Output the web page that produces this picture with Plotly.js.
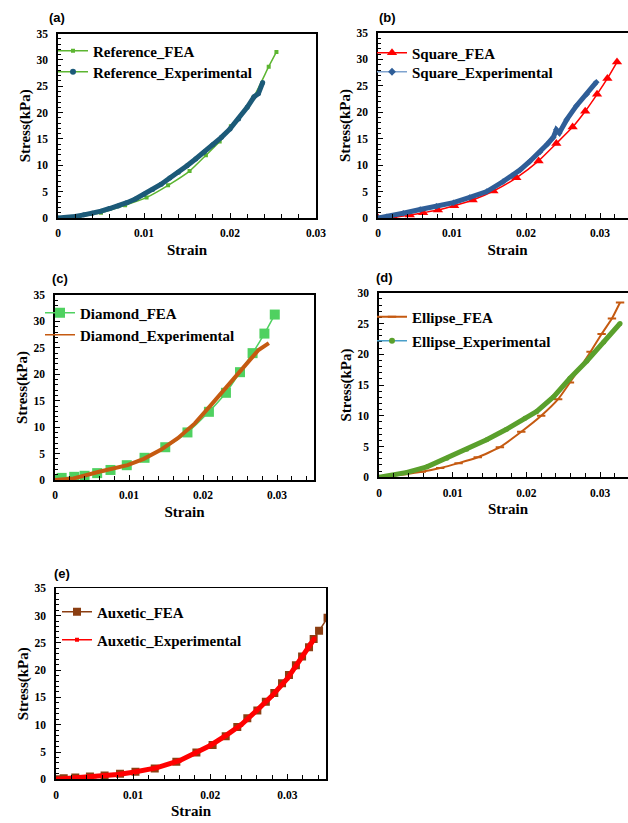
<!DOCTYPE html>
<html>
<head>
<meta charset="utf-8">
<script src="https://cdn.plot.ly/plotly-3.0.1.min.js"></script>
<style>
html,body{margin:0;padding:0;overflow:hidden;background:#fff;}
#chart{width:640px;height:823px;}
</style>
</head>
<body>
<div id="chart"></div>
<script>
// ---------- data ----------
// (a) Reference
const refFeaStrain = [0, 0.0025, 0.005, 0.0078, 0.0103, 0.0128, 0.0153, 0.0172, 0.0188, 0.0201, 0.0227, 0.0245, 0.0254];
const refFeaStress = [0, 0.3, 1.0, 2.4, 3.9, 6.2, 8.9, 11.9, 14.5, 17.4, 22.8, 28.7, 31.5];
const refExpStrain = [0, 0.001, 0.002, 0.003, 0.004, 0.005, 0.006, 0.007, 0.008, 0.009, 0.010, 0.011, 0.012, 0.013, 0.014, 0.015, 0.016, 0.017, 0.018, 0.019, 0.020, 0.021, 0.022, 0.0228, 0.0233, 0.0238];
const refExpStress = [0, 0.1, 0.3, 0.6, 0.9, 1.3, 1.8, 2.3, 2.9, 3.6, 4.5, 5.4, 6.4, 7.6, 8.7, 9.9, 11.2, 12.5, 13.9, 15.3, 16.9, 18.8, 21.0, 23.0, 23.6, 25.7];
// (b) Square
const sqFeaStrain = [0, 0.0021, 0.0043, 0.0061, 0.0081, 0.0103, 0.0128, 0.0156, 0.0187, 0.0217, 0.0241, 0.0263, 0.0280, 0.0296, 0.0310, 0.0323];
const sqFeaStress = [0, 0.1, 0.55, 1.0, 1.5, 2.3, 3.4, 5.1, 7.6, 10.8, 14.1, 17.2, 20.2, 23.4, 26.4, 29.5];
const sqExpStrain = [0, 0.0012, 0.0034, 0.0057, 0.0079, 0.0102, 0.0124, 0.0147, 0.0169, 0.0181, 0.0192, 0.0205, 0.0219, 0.0229, 0.0237, 0.0241, 0.0245, 0.0255, 0.0268, 0.0282, 0.0295];
const sqExpStress = [0, 0.25, 0.9, 1.6, 2.2, 2.9, 3.9, 5.0, 6.9, 8.0, 9.1, 10.7, 12.5, 14.0, 15.3, 16.7, 16.1, 18.6, 21.2, 23.4, 25.7];
// (c) Diamond
const diFeaStrain = [0, 0.0009, 0.0026, 0.0040, 0.0057, 0.0075, 0.0097, 0.0121, 0.0149, 0.0179, 0.0208, 0.0231, 0.0250, 0.0267, 0.0283, 0.0297];
const diFeaStress = [0.1, 0.4, 0.6, 0.8, 1.3, 1.9, 2.8, 4.2, 6.2, 9.0, 12.9, 16.5, 20.4, 24.0, 27.7, 31.3];
const diExpStrain = [0, 0.0025, 0.0061, 0.0098, 0.012, 0.0143, 0.0166, 0.0189, 0.0211, 0.0234, 0.0257, 0.0275, 0.0289];
const diExpStress = [0, 0.3, 1.6, 2.8, 4.0, 5.7, 7.9, 10.7, 14.2, 18.0, 21.8, 24.6, 25.9];
// (d) Ellipse
const elFeaStrain = [0, 0.0035, 0.0058, 0.0083, 0.0108, 0.0134, 0.0164, 0.0193, 0.0220, 0.0243, 0.0259, 0.0287, 0.0302, 0.0316, 0.0327];
const elFeaStress = [0, 0.5, 0.9, 1.5, 2.3, 3.25, 4.9, 7.4, 10.0, 12.7, 15.4, 20.4, 23.3, 25.8, 28.4];
const elExpStrain = [0, 0.0038, 0.0065, 0.0092, 0.0119, 0.0146, 0.0173, 0.0198, 0.0214, 0.0237, 0.0259, 0.0282, 0.0305, 0.0327];
const elExpStress = [0, 0.8, 1.7, 3.1, 4.55, 6.1, 7.8, 9.6, 10.7, 13.1, 16.1, 18.9, 22.0, 25.0];
// (e) Auxetic
const auFeaStrain = [0, 0.001, 0.0025, 0.0044, 0.0063, 0.0083, 0.0103, 0.0128, 0.0156, 0.0182, 0.0203, 0.0220, 0.0235, 0.0248, 0.0261, 0.0272, 0.0283, 0.0293, 0.0302, 0.0311, 0.0319, 0.0328, 0.0334, 0.0341, 0.0352];
const auFeaStress = [0, 0.2, 0.35, 0.5, 0.7, 1.0, 1.4, 2.0, 3.2, 4.9, 6.3, 7.9, 9.6, 11.2, 12.6, 14.2, 15.8, 17.6, 19.1, 20.9, 22.5, 24.2, 25.7, 27.2, 29.6];
const auExpStrain = [0, 0.002, 0.005, 0.008, 0.010, 0.013, 0.016, 0.018, 0.020, 0.022, 0.024, 0.026, 0.028, 0.030, 0.031, 0.032, 0.033, 0.0335];
const auExpStress = [0, 0.2, 0.5, 0.9, 1.3, 2.1, 3.4, 4.7, 6.2, 8.0, 10.0, 12.6, 15.3, 18.5, 20.5, 22.6, 24.8, 25.8];

const panelLabels = ['(a)', '(b)', '(c)', '(d)', '(e)'];
const xTitle = 'Strain';
const yTitle = 'Stress(kPa)';

// ---------- layout helpers ----------
const W = 640, H = 823;
const SERIF = 'Liberation Serif, Times New Roman, serif';
const px = v => v / W;
const py = v => 1 - v / H;

// plot frames in pixels: [left, right, top, bottom]
const frames = [
  [58, 316, 33.5, 218],
  [378, 637, 33, 218],
  [55, 314, 295, 480],
  [379, 637, 292.7, 477.3],
  [56, 326, 588.3, 779.3]
];
const xMax = [0.03, 0.035, 0.035, 0.035, 0.035];
const yMax = [35, 35, 35, 30, 35];

const layout = {
  width: W, height: H,
  margin: {l: 0, r: 0, t: 0, b: 0},
  paper_bgcolor: '#fff', plot_bgcolor: '#fff',
  showlegend: true,
  font: {family: SERIF, color: '#000'},
  annotations: []
};

frames.forEach((f, i) => {
  const n = i === 0 ? '' : String(i + 1);
  layout['xaxis' + n] = {
    domain: [px(f[0]), px(f[1])],
    anchor: 'y' + n,
    range: [0, xMax[i]],
    dtick: 0.01, tick0: 0,
    ticks: 'inside', ticklen: 5, tickwidth: 1, tickcolor: '#000',
    minor: {dtick: 0.002, ticks: 'inside', ticklen: 4, tickcolor: '#000'},
    showline: true, linecolor: '#000', linewidth: 1.6, mirror: true,
    showgrid: false, zeroline: false,
    ticklabelstandoff: 4,
    tickfont: {family: SERIF, size: 11.5, color: '#000', weight: 'bold'},
    title: {text: '<b>' + xTitle + '</b>', font: {family: SERIF, size: 15, color: '#000'}, standoff: 6},
    fixedrange: true
  };
  layout['yaxis' + n] = {
    domain: [py(f[3]), py(f[2])],
    anchor: 'x' + n,
    range: [0, yMax[i]],
    dtick: 5, tick0: 0,
    ticks: 'inside', ticklen: 5, tickwidth: 1, tickcolor: '#000',
    minor: {dtick: 1, ticks: 'inside', ticklen: 3, tickcolor: '#000'},
    showline: true, linecolor: '#000', linewidth: 1.6, mirror: true,
    showgrid: false, zeroline: false,
    ticklabelstandoff: 6,
    tickfont: {family: SERIF, size: 11.5, color: '#000', weight: 'bold'},
    title: {text: '<b>' + yTitle + '</b>', font: {family: SERIF, size: 15, color: '#000'}, standoff: 2},
    fixedrange: true
  };
});

// panel letters
const letterPos = [[57, 17], [387, 17], [60, 278], [384, 277], [62, 573]];
panelLabels.forEach((t, i) => {
  layout.annotations.push({
    text: '<b>' + t + '</b>', xref: 'paper', yref: 'paper',
    x: px(letterPos[i][0]), y: py(letterPos[i][1]),
    xanchor: 'center', yanchor: 'middle', showarrow: false,
    font: {family: 'Liberation Sans, Arial, sans-serif', size: 13, color: '#000'}
  });
});

// one legend per entry, placed in pixels [textStartX, centerY]
const legendPos = [
  [93, 51], [93, 72],
  [412, 53], [412, 72],
  [80, 313], [80, 335],
  [412, 317], [412, 341],
  [97, 612], [97, 640]
];
legendPos.forEach((p, k) => {
  const name = k === 0 ? 'legend' : 'legend' + (k + 1);
  layout[name] = {
    x: px(p[0] - 40), y: py(p[1]), xanchor: 'left', yanchor: 'middle',
    bgcolor: 'rgba(0,0,0,0)', borderwidth: 0, itemwidth: 30,
    font: {family: SERIF, size: 15, color: '#000', weight: 'bold'},
    itemclick: false, itemdoubleclick: false
  };
});
const lg = k => (k === 0 ? 'legend' : 'legend' + (k + 1));

const traces = [];
function addPair(i, legIdx, fea, exp) {
  const n = i === 0 ? '' : String(i + 1);
  const ax = {xaxis: 'x' + n, yaxis: 'y' + n};
  // FEA
  traces.push(Object.assign({
    type: 'scatter', mode: 'lines+markers', name: fea.name,
    x: fea.x, y: fea.y,
    line: {color: fea.lc, width: fea.lw, shape: 'spline', smoothing: 0.5},
    marker: fea.marker,
    legend: lg(legIdx)
  }, ax));
  // Experimental (dense data drawn as thick line)
  traces.push(Object.assign({
    type: 'scatter', mode: 'lines+markers', name: exp.name, showlegend: false,
    x: exp.x, y: exp.y,
    line: {color: exp.pc, width: exp.pw},
    marker: {color: exp.pc, size: exp.ps, symbol: exp.sym}
  }, ax));
  // legend entry for experimental
  traces.push(Object.assign({
    type: 'scatter', mode: 'lines+markers', name: exp.name,
    x: [null], y: [null],
    line: {color: exp.lc, width: 1.5},
    marker: {color: exp.mc, size: exp.ms, symbol: exp.sym},
    legend: lg(legIdx + 1)
  }, ax));
}

addPair(0, 0,
  {name: 'Reference_FEA', x: refFeaStrain, y: refFeaStress, lc: '#5cb531', lw: 1.5,
   marker: {color: '#5cb531', size: 4, symbol: 'square'}},
  {name: 'Reference_Experimental', x: refExpStrain, y: refExpStress,
   pc: '#1c5a78', pw: 5, ps: 5, sym: 'circle', lc: '#5cb531', mc: '#1c5a78', ms: 6});
addPair(1, 2,
  {name: 'Square_FEA', x: sqFeaStrain, y: sqFeaStress, lc: '#ff0000', lw: 1.5,
   marker: {color: '#ff0000', size: 9, symbol: 'triangle-up'}},
  {name: 'Square_Experimental', x: sqExpStrain, y: sqExpStress,
   pc: '#2f5e98', pw: 5, ps: 5, sym: 'diamond', lc: '#7fa3cf', mc: '#2f5e98', ms: 6});
addPair(2, 4,
  {name: 'Diamond_FEA', x: diFeaStrain, y: diFeaStress, lc: '#4fd160', lw: 1.5,
   marker: {color: '#4fd160', size: 10, symbol: 'square'}},
  {name: 'Diamond_Experimental', x: diExpStrain, y: diExpStress,
   pc: '#c55a11', pw: 4, ps: 4, sym: 'line-ew', lc: '#c55a11', mc: '#c55a11', ms: 6});
addPair(3, 6,
  {name: 'Ellipse_FEA', x: elFeaStrain, y: elFeaStress, lc: '#c55a11', lw: 2,
   marker: {color: '#c55a11', size: 6, symbol: 'line-ew', line: {color: '#c55a11', width: 2}}},
  {name: 'Ellipse_Experimental', x: elExpStrain, y: elExpStress,
   pc: '#5aa02c', pw: 5, ps: 5, sym: 'circle', lc: '#4a9fc9', mc: '#5aa02c', ms: 6});
addPair(4, 8,
  {name: 'Auxetic_FEA', x: auFeaStrain, y: auFeaStress, lc: '#8b3e12', lw: 1.5,
   marker: {color: '#8b3e12', size: 8, symbol: 'square'}},
  {name: 'Auxetic_Experimental', x: auExpStrain, y: auExpStress,
   pc: '#ff0000', pw: 5, ps: 4, sym: 'square', lc: '#ff0000', mc: '#ff0000', ms: 4});

Plotly.newPlot('chart', traces, layout, {staticPlot: true, displayModeBar: false});
</script>
</body>
</html>
